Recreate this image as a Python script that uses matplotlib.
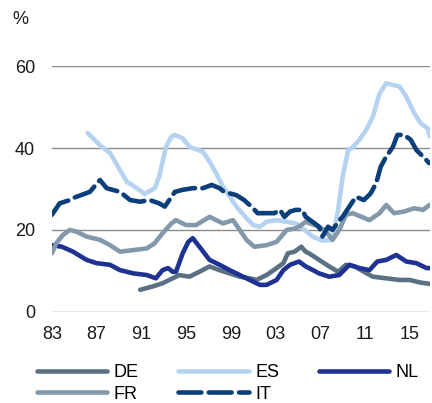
import matplotlib
matplotlib.use("Agg")
import matplotlib.pyplot as plt

plt.rcParams['font.family'] = ['Liberation Sans', 'DejaVu Sans']

# 数据：按图读取（年份, %）
de_x = [1990.9, 1992.0, 1992.9, 1993.5, 1994.4, 1995.3, 1996.2, 1997.1, 1998.0, 1998.9,
        1999.8, 2000.7, 2001.3, 2002.2, 2003.1, 2003.7, 2004.1, 2004.7, 2005.1, 2005.3,
        2005.7, 2006.0, 2006.9, 2007.8, 2008.6, 2009.3, 2010.1, 2010.9, 2011.7, 2012.9,
        2014.1, 2015.0, 2015.9, 2016.9]
de_y = [5.4, 6.2, 7.0, 7.8, 9.0, 8.6, 9.8, 11.1, 10.2, 9.4,
        8.6, 8.2, 7.8, 9.0, 10.7, 11.9, 14.3, 14.7, 15.5, 15.9,
        14.7, 14.3, 12.7, 11.1, 9.8, 11.5, 11.1, 9.8, 8.6, 8.2,
        7.8, 7.8, 7.2, 6.8]

es_x = [1986.2, 1987.3, 1988.2, 1989.1, 1989.7, 1990.6, 1991.3, 1992.2, 1992.6, 1993.2,
        1993.7, 1994.0, 1994.7, 1995.3, 1996.1, 1996.5, 1997.1, 1997.7, 1998.3, 1998.7,
        1999.5, 2000.4, 2001.0, 2001.6, 2002.2, 2003.1, 2004.0, 2004.8, 2005.6, 2006.3,
        2007.2, 2008.1, 2008.6, 2009.0, 2009.5, 2009.9, 2010.5, 2011.1, 2011.7, 2012.3,
        2012.9, 2013.5, 2014.1, 2014.7, 2015.4, 2016.0, 2016.6, 2016.8]
es_y = [43.7, 40.7, 38.8, 34.6, 31.8, 30.2, 28.8, 30.2, 33.0, 40.3,
        42.8, 43.2, 42.4, 40.3, 39.5, 39.1, 36.7, 33.8, 30.6, 29.0,
        25.7, 22.9, 21.2, 20.8, 22.0, 22.4, 22.0, 21.6, 20.0, 18.4,
        17.4, 17.6, 24.9, 33.0, 39.5, 40.2, 42.0, 44.4, 47.6, 53.3,
        55.8, 55.4, 55.0, 52.5, 48.5, 46.0, 44.8, 42.8]

nl_x = [1983.0, 1983.9, 1984.9, 1986.1, 1987.0, 1988.2, 1989.1, 1990.3, 1991.5, 1992.3,
        1992.9, 1993.4, 1993.8, 1994.1, 1994.7, 1995.2, 1995.6, 1996.2, 1997.1, 1998.0,
        1998.9, 1999.8, 2000.7, 2001.6, 2002.2, 2003.1, 2003.7, 2004.3, 2005.1, 2005.7,
        2006.0, 2006.9, 2007.8, 2008.7, 2009.6, 2010.5, 2011.4, 2012.1, 2012.9, 2013.8,
        2014.7, 2015.6, 2016.5, 2016.9]
nl_y = [16.3, 15.9, 14.7, 12.7, 11.9, 11.5, 10.2, 9.4, 9.0, 8.2,
        10.2, 10.7, 9.8, 9.8, 14.3, 17.1, 18.0, 15.9, 12.7, 11.5,
        10.2, 9.0, 7.8, 6.6, 6.6, 7.8, 10.2, 11.5, 12.3, 11.1,
        10.7, 9.4, 8.6, 9.0, 11.5, 10.7, 10.2, 12.3, 12.7, 13.9,
        12.3, 11.9, 10.7, 10.7]

fr_x = [1983.0, 1983.4, 1984.0, 1984.6, 1985.2, 1986.1, 1987.3, 1988.2, 1989.1, 1990.3,
        1991.5, 1992.2, 1992.9, 1993.7, 1994.1, 1995.0, 1995.9, 1997.1, 1998.3, 1999.2,
        1999.6, 2000.4, 2001.1, 2002.2, 2003.1, 2004.0, 2004.8, 2005.1, 2005.7, 2006.5,
        2007.4, 2008.1, 2008.7, 2009.3, 2009.9, 2010.7, 2011.4, 2012.3, 2012.9, 2013.6,
        2014.5, 2015.4, 2016.2, 2016.75]
fr_y = [14.3, 16.8, 18.8, 20.0, 19.6, 18.4, 17.6, 16.3, 14.7, 15.1,
        15.5, 16.8, 19.2, 21.6, 22.4, 21.2, 21.2, 23.2, 21.6, 22.4,
        20.8, 17.6, 15.9, 16.3, 17.1, 20.0, 20.4, 20.8, 22.0, 21.2,
        20.0, 17.6, 20.0, 23.7, 24.1, 23.2, 22.4, 24.1, 26.1, 24.1,
        24.5, 25.3, 24.9, 26.1]

it_x = [1983.0, 1983.7, 1984.6, 1984.9, 1986.4, 1987.3, 1987.9, 1989.1, 1990.0, 1990.9,
        1991.75, 1992.6, 1993.1, 1994.0, 1994.7, 1995.6, 1996.5, 1997.3, 1998.0, 1998.4,
        1999.5, 2000.2, 2001.0, 2001.4, 2002.9, 2003.4, 2003.8, 2004.3, 2004.8, 2005.4,
        2005.7, 2006.5, 2006.9, 2007.2, 2007.7, 2008.1, 2008.6, 2009.0, 2009.6, 2010.2,
        2010.9, 2011.5, 2012.0, 2012.4, 2012.9, 2013.5, 2013.9, 2014.5, 2015.1, 2015.6,
        2016.2, 2016.75]
it_y = [23.7, 26.5, 27.3, 27.8, 29.3, 32.2, 30.2, 29.3, 27.3, 26.9,
        27.3, 26.5, 25.7, 29.3, 29.8, 30.2, 30.2, 31.0, 30.2, 29.3,
        28.5, 27.3, 25.3, 24.1, 24.1, 24.9, 23.2, 24.5, 24.9, 24.9,
        23.2, 21.6, 20.8, 18.4, 20.8, 20.0, 22.0, 23.2, 25.7, 28.1,
        27.3, 28.9, 31.4, 35.4, 37.9, 40.3, 43.2, 43.2, 42.0, 39.5,
        37.9, 36.3]

year_ticks = [1983, 1987, 1991, 1995, 1999, 2003, 2007, 2011, 2015]
year_labels = ['83', '87', '91', '95', '99', '03', '07', '11', '15']
y_ticks = [0, 20, 40, 60]

fig = plt.figure(figsize=(4.32, 4.03), dpi=100)
ax = fig.add_axes([0.120, 0.226, 0.875, 0.610])

lw = 3.3
l_de, = ax.plot(de_x, de_y, color='#5b7083', lw=lw, label='DE', solid_capstyle='round')
l_es, = ax.plot(es_x, es_y, color='#b5d3f0', lw=lw, label='ES', solid_capstyle='round')
l_nl, = ax.plot(nl_x, nl_y, color='#1e3294', lw=lw, label='NL', solid_capstyle='round')
l_fr, = ax.plot(fr_x, fr_y, color='#8398aa', lw=lw, label='FR', solid_capstyle='round')
l_it, = ax.plot(it_x, it_y, color='#0a3f7b', lw=lw, label='IT',
                dashes=(5, 1.6), dash_capstyle='round')

ax.set_xlim(1983, 2016.8)
ax.set_ylim(0, 60)
ax.set_xticks(year_ticks)
ax.set_xticklabels(year_labels)
ax.set_yticks(y_ticks)
ax.grid(axis='y', color='#8c8c8c', lw=1.0)
ax.set_axisbelow(True)
for s in ax.spines.values():
    s.set_visible(False)
ax.tick_params(length=0, labelsize=13, colors='#1a1a1a')
ax.tick_params(axis='y', pad=12)
ax.tick_params(axis='x', pad=10)

fig.text(12 / 432, 1 - 20 / 403, '%', fontsize=13, color='#1a1a1a', va='center', ha='left')

fig.legend([l_de, l_fr, l_es, l_it, l_nl], ['DE', 'FR', 'ES', 'IT', 'NL'],
           ncol=3, loc='upper left', bbox_to_anchor=(37 / 432, 1 - 364 / 403),
           frameon=False, fontsize=13, handlelength=3.9, handletextpad=0.35,
           columnspacing=2.2, labelspacing=0.26, borderaxespad=0, borderpad=0)

plt.savefig('out.png', dpi=100)
